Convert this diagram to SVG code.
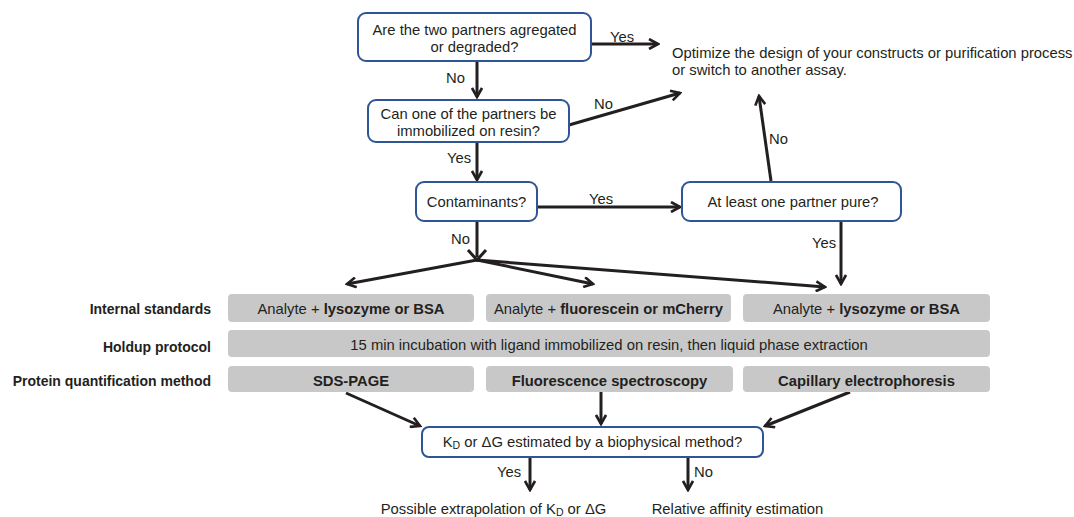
<svg xmlns="http://www.w3.org/2000/svg" width="1074" height="517" viewBox="0 0 1074 517">
<defs>
<marker id="arr" viewBox="0 0 12 12" refX="10" refY="6" markerWidth="12" markerHeight="12" markerUnits="userSpaceOnUse" orient="auto">
<path d="M1,1 L10,6 L1,11" fill="none" stroke="#231f20" stroke-width="2.6"/>
</marker>
<style>
.t{font-family:"Liberation Sans",Arial,sans-serif;font-size:14.8px;fill:#231f20}
.b{font-weight:bold}
.l{font-family:"Liberation Sans",Arial,sans-serif;font-size:14px;font-weight:bold;fill:#231f20;text-anchor:end}
.m{text-anchor:middle}
.q{fill:#fff;stroke:#2e5596;stroke-width:2}
.g{fill:#c8c8c8}
.c{fill:none;stroke:#231f20;stroke-width:3}
.a{marker-end:url(#arr)}
</style>
</defs>
<rect width="1074" height="517" fill="#fff"/>
<g id="connectors">
<path class="c a" d="M591,44 L658,44"/>
<path class="c a" d="M477,61 L477,97"/>
<path class="c a" d="M569,125 L680,93"/>
<path class="c a" d="M477,142 L477,180"/>
<path class="c a" d="M537,207 L680,207"/>
<path class="c a" d="M771,181 L759,96"/>
<path class="c a" d="M841,221 L841,284"/>
<path class="c" d="M477,221 L477,257"/>
<path class="c a" d="M477,260 L347,284"/>
<path class="c a" d="M477,260 L593,284"/>
<path class="c a" d="M477,260 L825,287"/>
<path class="c" d="M468,250 L477,260 L486,250"/>
<path class="c a" d="M346,393 L420,426"/>
<path class="c a" d="M601,392 L601,424"/>
<path class="c a" d="M850,392 L765,426"/>
<path class="c a" d="M530,457 L530,490"/>
<path class="c a" d="M688,457 L688,490"/>
<text class="t" x="610" y="42">Yes</text>
<text class="t" x="446" y="83">No</text>
<text class="t" x="594" y="109">No</text>
<text class="t" x="447" y="163">Yes</text>
<text class="t" x="589" y="204">Yes</text>
<text class="t" x="769" y="144">No</text>
<text class="t" x="812" y="248">Yes</text>
<text class="t" x="451" y="244">No</text>
<text class="t" x="497" y="477">Yes</text>
<text class="t" x="694" y="477">No</text>
</g>
<g id="n1"><rect class="q" x="358" y="13" width="233" height="48" rx="8"/><text class="t m" x="474.5" y="35">Are the two partners agregated</text><text class="t m" x="474.5" y="52">or degraded?</text></g>
<g id="n2"><rect class="q" x="368" y="100" width="201" height="42" rx="8"/><text class="t m" x="468.5" y="119">Can one of the partners be</text><text class="t m" x="468.5" y="136">immobilized on resin?</text></g>
<g id="n3"><rect class="q" x="416" y="182" width="121" height="39" rx="8"/><text class="t m" x="476.5" y="207">Contaminants?</text></g>
<g id="n4"><rect class="q" x="682" y="182" width="219" height="39" rx="8"/><text class="t m" x="793" y="207">At least one partner pure?</text></g>
<g id="opt"><text class="t" x="672" y="58">Optimize the design of your constructs or purification process</text><text class="t" x="672" y="75">or switch to another assay.</text></g>
<g id="labels">
<text class="l" x="211" y="314">Internal standards</text>
<text class="l" x="211" y="352">Holdup protocol</text>
<text class="l" x="211" y="386">Protein quantification method</text>
</g>
<g id="std1"><rect class="g" x="228" y="294" width="246" height="28" rx="4"/><text class="t m" x="351" y="314">Analyte + <tspan class="b">lysozyme or BSA</tspan></text></g>
<g id="std2"><rect class="g" x="486" y="294" width="245" height="28" rx="4"/><text class="t m" x="608.5" y="314">Analyte + <tspan class="b">fluorescein or mCherry</tspan></text></g>
<g id="std3"><rect class="g" x="743" y="294" width="247" height="28" rx="4"/><text class="t m" x="866.5" y="314">Analyte + <tspan class="b">lysozyme or BSA</tspan></text></g>
<g id="holdup"><rect class="g" x="228" y="330" width="762" height="27" rx="4"/><text class="t m" x="609" y="350">15 min incubation with ligand immobilized on resin, then liquid phase extraction</text></g>
<g id="q1"><rect class="g" x="228" y="366" width="246" height="26" rx="4"/><text class="t m b" x="351" y="386">SDS-PAGE</text></g>
<g id="q2"><rect class="g" x="486" y="366" width="247" height="26" rx="4"/><text class="t m b" x="609.5" y="386">Fluorescence spectroscopy</text></g>
<g id="q3"><rect class="g" x="743" y="366" width="247" height="26" rx="4"/><text class="t m b" x="866.5" y="386">Capillary electrophoresis</text></g>
<g id="kd"><rect class="q" x="422" y="427" width="341" height="30" rx="7"/><text class="t m" x="592.5" y="447">K<tspan font-size="10.5" dy="2">D</tspan><tspan dy="-2"> or ΔG estimated by a biophysical method?</tspan></text></g>
<g id="r1"><text class="t m" x="493.5" y="514">Possible extrapolation of K<tspan font-size="10.5" dy="2">D</tspan><tspan dy="-2"> or ΔG</tspan></text></g>
<g id="r2"><text class="t m" x="737.5" y="514">Relative affinity estimation</text></g>
</svg>
